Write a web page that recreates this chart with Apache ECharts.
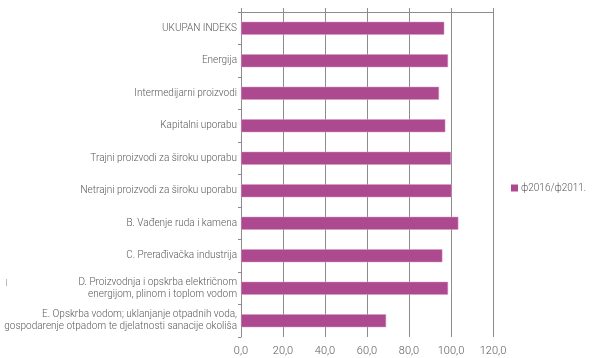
<!DOCTYPE html>
<html>
<head>
<meta charset="utf-8">
<script src="https://cdn.jsdelivr.net/npm/echarts@6/dist/echarts.min.js"></script>
<style>
html,body{margin:0;padding:0;background:#fff;}
#chart{width:592px;height:358px;}
</style>
</head>
<body>
<div id="chart"></div>
<script>
const categories = [
  'UKUPAN INDEKS',
  'Energija',
  'Intermedijarni proizvodi',
  'Kapitalni uporabu',
  'Trajni proizvodi za široku uporabu',
  'Netrajni proizvodi za široku uporabu',
  'B. Vađenje ruda i kamena',
  'C. Prerađivačka industrija',
  'D. Proizvodnja i opskrba električnom\nenergijom, plinom i toplom vodom',
  'E. Opskrba vodom; uklanjanje otpadnih voda,\ngospodarenje otpadom te djelatnosti sanacije okoliša'
];
const seriesName = 'ф2016/ф2011.';
const values = [96.8, 98.6, 94.3, 97.3, 100.0, 100.3, 103.5, 95.9, 98.6, 69.1];

const chart = echarts.init(document.getElementById('chart'), null, {renderer: 'canvas'});
const font = 'Roboto';
chart.setOption({
  animation: false,
  textStyle: {fontFamily: font},
  grid: {left: 241, right: 99, top: 12, bottom: 21, containLabel: false},
  legend: {
    show: true,
    left: 506,
    top: 178,
    itemWidth: 7,
    itemHeight: 7,
    itemGap: 4,
    icon: 'rect',
    itemStyle: {borderWidth: 0, color: '#ad4a8f'},
    textStyle: {fontFamily: font, fontWeight: 300, fontSize: 10, color: '#595959', padding: [0,0,0,-2]},
    data: [seriesName]
  },
  xAxis: [{
    type: 'value',
    position: 'bottom',
    min: 0, max: 120, interval: 20,
    axisLine: {show: false},
    axisTick: {show: false},
    splitLine: {show: true, lineStyle: {color: '#8c8c8c', width: 1}},
    axisLabel: {
      fontFamily: font, fontWeight: 300, fontSize: 11, color: '#595959', margin: 9,
      formatter: v => v.toFixed(1).replace('.', ',')
    }
  }, {
    type: 'value',
    position: 'top',
    min: 0, max: 120, interval: 20,
    axisLine: {show: true, lineStyle: {color: '#8c8c8c', width: 1}},
    axisTick: {show: true, length: 4, lineStyle: {color: '#8c8c8c'}},
    splitLine: {show: false},
    axisLabel: {show: false}
  }],
  yAxis: {
    type: 'category',
    inverse: true,
    data: categories,
    axisLine: {show: true, lineStyle: {color: '#8c8c8c', width: 1}},
    axisTick: {show: true, length: 3, lineStyle: {color: '#8c8c8c'}},
    axisLabel: {
      fontFamily: font, fontWeight: 300, fontSize: 10, color: '#595959', margin: 4,
      lineHeight: 12, align: 'right'
    }
  },
  series: [{
    name: seriesName,
    type: 'bar',
    xAxisIndex: 0,
    data: values,
    barWidth: 13,
    itemStyle: {color: '#ad4a8f', borderColor: '#d99bc6', borderWidth: 0.5}
  }],
  graphic: [{
    type: 'line',
    shape: {x1: 6.5, y1: 279, x2: 6.5, y2: 286},
    style: {stroke: '#bbbbbb', lineWidth: 1}
  }]
});
</script>
</body>
</html>
